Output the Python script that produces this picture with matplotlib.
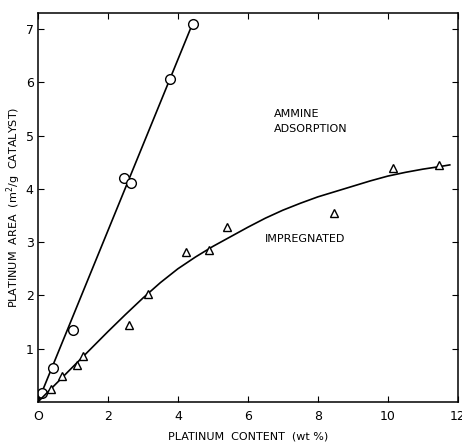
import matplotlib
matplotlib.use('Agg')
import matplotlib.pyplot as plt

# Ammine adsorption (circles)
amm_x = [0.13, 0.44, 0.99, 2.46, 2.65, 3.77, 4.44]
amm_y = [0.17, 0.63, 1.36, 4.20, 4.11, 6.07, 7.09]
amm_line_x = [0.0, 4.45]
amm_line_y = [0.0, 7.15]

# Impregnated (triangles)
imp_x = [0.37, 0.69, 1.12, 1.29, 2.61, 3.14, 4.22, 4.89, 5.39, 8.47, 10.14, 11.46]
imp_y = [0.24, 0.49, 0.69, 0.87, 1.45, 2.03, 2.82, 2.86, 3.29, 3.55, 4.40, 4.45]
imp_curve_x = [0, 0.5, 1, 1.5, 2, 2.5, 3, 3.5, 4, 4.5, 5, 5.5, 6, 6.5, 7,
               7.5, 8, 8.5, 9, 9.5, 10, 10.5, 11, 11.5, 11.77]
imp_curve_y = [0, 0.33, 0.66, 0.99, 1.32, 1.64, 1.95, 2.24, 2.5, 2.72, 2.92,
               3.1, 3.28, 3.45, 3.6, 3.73, 3.85, 3.95, 4.05, 4.15, 4.24,
               4.31, 4.37, 4.42, 4.45]

fig = plt.figure(figsize=(4.62, 4.42), dpi=100)
ax = fig.add_axes([0.082, 0.0905, 0.909, 0.880])

ax.plot(amm_line_x, amm_line_y, color='black', lw=1.2)
ax.plot(amm_x, amm_y, 'o', mfc='white', mec='black', ms=7, mew=1.0)

ax.plot(imp_curve_x, imp_curve_y, color='black', lw=1.2)
ax.plot(imp_x, imp_y, '^', mfc='white', mec='black', ms=6, mew=1.0)

ax.set_xlim(0, 12)
ax.set_ylim(0, 7.3)
ax.set_xticks([0, 2, 4, 6, 8, 10, 12])
ax.set_xticklabels(['O', '2', '4', '6', '8', '10', '12'])
ax.set_yticks([1, 2, 3, 4, 5, 6, 7])
ax.tick_params(direction='in', top=True, right=True, length=4, width=0.8,
               labelsize=9)
ax.tick_params(axis='x', pad=6)
ax.tick_params(axis='y', pad=3)
for s in ax.spines.values():
    s.set_linewidth(1.1)

ax.text(6.75, 5.27, 'AMMINE\nADSORPTION', fontsize=8, ha='left', va='center',
        linespacing=1.6)
ax.text(6.5, 3.05, 'IMPREGNATED', fontsize=8, ha='left', va='center')

ax.set_xlabel('PLATINUM  CONTENT  (wt %)', fontsize=8, labelpad=6)
ax.set_ylabel('PLATINUM  AREA  (m$^2$/g  CATALYST)', fontsize=8, labelpad=2)

fig.savefig('out.png', dpi=100)
